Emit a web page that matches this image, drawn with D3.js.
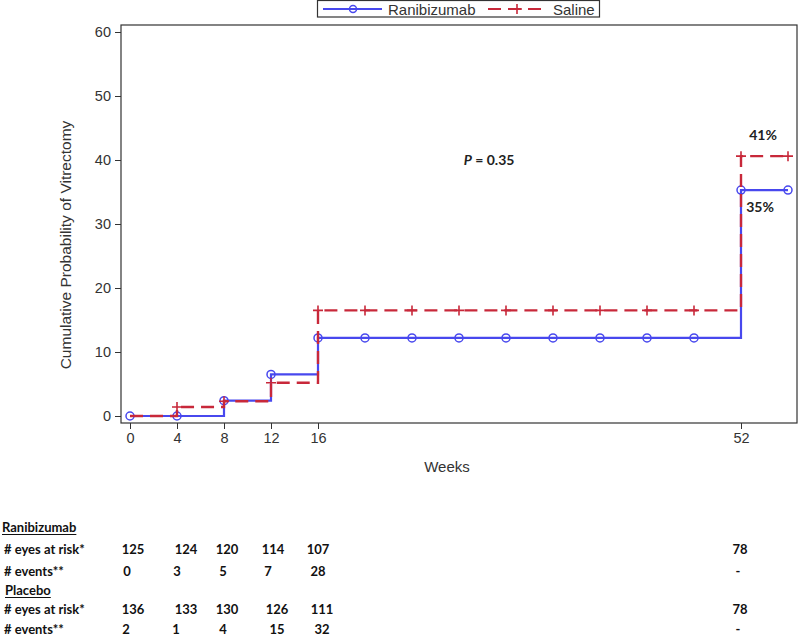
<!DOCTYPE html>
<html>
<head>
<meta charset="utf-8">
<script src="https://cdn.jsdelivr.net/npm/d3@7"></script>
<style>
  html, body { margin: 0; padding: 0; background: #fff; }
  svg { display: block; }
</style>
</head>
<body>
<svg id="chart" width="800" height="643"></svg>
<script>
// ---------- data ----------
const stepWeeks = [0, 4, 8, 12, 16, 52, 56];
const ranibizumab = [0, 0, 2.4, 6.5, 12.2, 35.3, 35.3];
const saline = [0, 1.4, 2.3, 5.2, 16.5, 40.6, 40.6];
const markerWeeks = [0, 4, 8, 12, 16, 20, 24, 28, 32, 36, 40, 44, 48, 52, 56];
const xTicks = [0, 4, 8, 12, 16, 52];
const yTicks = [0, 10, 20, 30, 40, 50, 60];
const seriesNames = ["Ranibizumab", "Saline"];
const endLabels = ["41%", "35%"];
const pValue = "0.35";

const tableWeeks = [0, 4, 8, 12, 16, 52];
const tableGroups = ["Ranibizumab", "Placebo"];
const rowLabels = ["# eyes at risk*", "# events**"];
const raniAtRisk = ["125", "124", "120", "114", "107", "78"];
const raniEvents = ["0", "3", "5", "7", "28", "-"];
const placAtRisk = ["136", "133", "130", "126", "111", "78"];
const placEvents = ["2", "1", "4", "15", "32", "-"];

// ---------- setup ----------
const svg = d3.select("#chart");
const BLUE = "#4848ee", RED = "#c8283a", AXIS = "#333";
const plot = { left: 121, right: 797, top: 25, bottom: 423 };
const SANS = "Liberation Sans, Arial, sans-serif";

const x = d3.scaleLinear().domain([0, 52]).range([130, 741]);
const y = d3.scaleLinear().domain([0, 60]).range([416, 32]);

// frame
svg.append("rect")
  .attr("x", plot.left).attr("y", plot.top)
  .attr("width", plot.right - plot.left).attr("height", plot.bottom - plot.top)
  .attr("fill", "none").attr("stroke", AXIS).attr("stroke-width", 1.2);

// y axis
const yAxis = svg.append("g")
  .attr("transform", `translate(${plot.left},0)`)
  .call(d3.axisLeft(y).tickValues(yTicks).tickSize(6).tickPadding(4));
yAxis.select(".domain").remove();
yAxis.selectAll("line").attr("stroke", AXIS);
yAxis.selectAll("text").attr("font-family", SANS)
  .attr("font-size", 14.5).attr("fill", AXIS);

// x axis
const xAxis = svg.append("g")
  .attr("transform", `translate(0,${plot.bottom})`)
  .call(d3.axisBottom(x).tickValues(xTicks).tickSize(6).tickPadding(4));
xAxis.select(".domain").remove();
xAxis.selectAll("line").attr("stroke", AXIS);
xAxis.selectAll("text").attr("font-family", SANS)
  .attr("font-size", 14.5).attr("fill", AXIS);

// axis titles
svg.append("text")
  .attr("transform", "translate(71,245) rotate(-90)")
  .attr("text-anchor", "middle")
  .attr("font-family", SANS)
  .attr("font-size", 15.5).attr("fill", AXIS)
  .text("Cumulative Probability of Vitrectomy");
svg.append("text")
  .attr("x", 447).attr("y", 472)
  .attr("text-anchor", "middle")
  .attr("font-family", SANS)
  .attr("font-size", 15).attr("fill", AXIS)
  .text("Weeks");

// ---------- curves ----------
function stepValue(vals, w) {
  let v = vals[0];
  for (let i = 0; i < stepWeeks.length; i++) if (stepWeeks[i] <= w) v = vals[i];
  return v;
}
const line = d3.line().x(d => x(d[0])).y(d => y(d[1])).curve(d3.curveStepAfter);

const raniPts = stepWeeks.map((w, i) => [w, ranibizumab[i]]);
const salPts = stepWeeks.map((w, i) => [w, saline[i]]);

// blue solid
svg.append("path").datum(raniPts).attr("d", line)
  .attr("fill", "none").attr("stroke", BLUE).attr("stroke-width", 2.2);
svg.append("g").selectAll("circle").data(markerWeeks).join("circle")
  .attr("cx", d => x(d)).attr("cy", d => y(stepValue(ranibizumab, d)))
  .attr("r", 4).attr("fill", "none").attr("stroke", BLUE).attr("stroke-width", 1.5);

// red dashed
svg.append("path").datum(salPts).attr("d", line)
  .attr("fill", "none").attr("stroke", RED).attr("stroke-width", 2.4)
  .attr("stroke-dasharray", "13,7");
svg.append("g").selectAll("path").data(markerWeeks.slice(1)).join("path")
  .attr("d", d => {
    const cx = x(d), cy = y(stepValue(saline, d));
    return `M${cx - 5},${cy}H${cx + 5}M${cx},${cy - 5}V${cy + 5}`;
  })
  .attr("stroke", RED).attr("stroke-width", 1.6);

// ---------- annotations ----------
const annFont = "Lato, 'Open Sans', sans-serif";
const pText = svg.append("text")
  .attr("x", 489).attr("y", 165).attr("text-anchor", "middle")
  .attr("font-family", annFont).attr("font-size", 14).attr("font-weight", "bold")
  .attr("fill", "#222");
pText.append("tspan").attr("font-style", "italic").text("P");
pText.append("tspan").text(" = " + pValue);

svg.append("text").attr("x", x(52) + 22).attr("y", y(40.6) - 16)
  .attr("text-anchor", "middle").attr("font-family", annFont)
  .attr("font-size", 14).attr("font-weight", "bold").attr("fill", "#222")
  .text(endLabels[0]);
svg.append("text").attr("x", x(52) + 19).attr("y", y(35.3) + 22)
  .attr("text-anchor", "middle").attr("font-family", annFont)
  .attr("font-size", 14).attr("font-weight", "bold").attr("fill", "#222")
  .text(endLabels[1]);

// ---------- legend ----------
const lg = svg.append("g");
lg.append("rect").attr("x", 317.5).attr("y", 0.5).attr("width", 282).attr("height", 16.5)
  .attr("fill", "#fff").attr("stroke", AXIS).attr("stroke-width", 1.2);
lg.append("line").attr("x1", 323).attr("x2", 382).attr("y1", 9).attr("y2", 9)
  .attr("stroke", BLUE).attr("stroke-width", 2);
lg.append("circle").attr("cx", 353).attr("cy", 9).attr("r", 3.5)
  .attr("fill", "none").attr("stroke", BLUE).attr("stroke-width", 1.5);
lg.append("text").attr("x", 388).attr("y", 14.5)
  .attr("font-family", SANS).attr("font-size", 15)
  .attr("fill", AXIS).text(seriesNames[0]);
lg.append("line").attr("x1", 488).attr("x2", 541).attr("y1", 9).attr("y2", 9)
  .attr("stroke", RED).attr("stroke-width", 2.2).attr("stroke-dasharray", "13,7");
lg.append("path").attr("d", "M512,9H522M517,4V14")
  .attr("stroke", RED).attr("stroke-width", 1.6);
lg.append("text").attr("x", 553).attr("y", 14.5)
  .attr("font-family", SANS).attr("font-size", 15)
  .attr("fill", AXIS).text(seriesNames[1]);

// ---------- risk table ----------
const tFont = "Lato, 'Open Sans', sans-serif";
const tg = svg.append("g").attr("font-family", tFont).attr("font-size", 13)
  .attr("font-weight", "bold").attr("fill", "#111");

function header(txt, xx, yy) {
  const t = tg.append("text").attr("x", xx).attr("y", yy).text(txt);
  const w = t.node().getComputedTextLength();
  tg.append("line").attr("x1", xx).attr("x2", xx + w).attr("y1", yy + 2.5).attr("y2", yy + 2.5)
    .attr("stroke", "#111").attr("stroke-width", 1);
}
function row(label, vals, yy, offs) {
  tg.append("text").attr("x", 4).attr("y", yy).text(label);
  tableWeeks.forEach((w, i) => {
    tg.append("text").attr("x", x(w) + offs[i]).attr("y", yy)
      .attr("text-anchor", "middle").text(vals[i]);
  });
}
header(tableGroups[0], 2, 532);
row(rowLabels[0], raniAtRisk, 554, [3, 9, 3, 2, 0, -1]);
row(rowLabels[1], raniEvents, 576, [-3, 0, -1, -3, 0, -3]);
header(tableGroups[1], 5, 595);
row(rowLabels[0], placAtRisk, 614, [3, 9, 3, 6, 4, -1]);
row(rowLabels[1], placEvents, 634, [-4, -1, -1, 6, 4, -3]);
</script>
</body>
</html>
